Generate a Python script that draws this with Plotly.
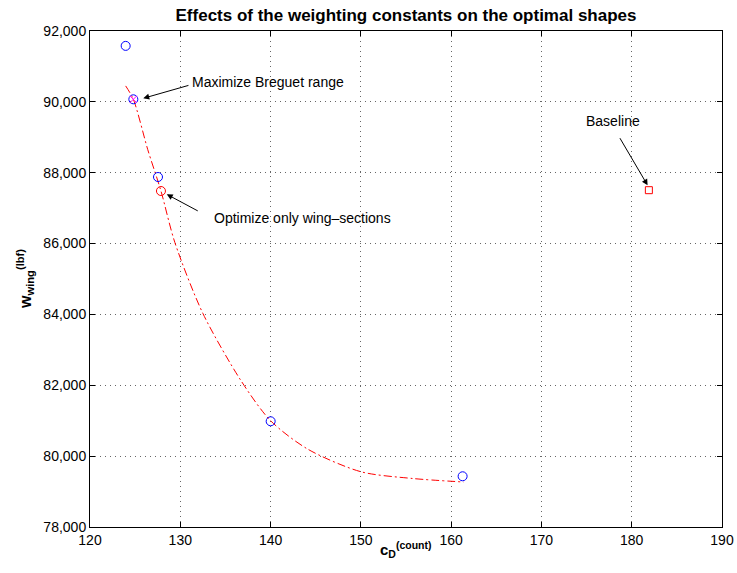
import plotly.graph_objects as go

# ---- data ----
blue_x = [123.95, 124.8, 127.53, 140.01, 161.27]
blue_y = [91580, 90072, 87879, 80984, 79432]

red_circle_x = [127.86]
red_circle_y = [87484]

magenta_x = [124.8]
magenta_y = [90072]

baseline_x = [181.9]
baseline_y = [87507]

curve_x = [123.95, 124.8, 126.4, 127.86, 129.4, 132.5, 136.7, 140.0, 144.1, 150.0, 155.7, 161.4]
curve_y = [90450, 90072, 88650, 87484, 86030, 84030, 82140, 81000, 80200, 79560, 79370, 79270]

x_range = [120, 190]
y_range = [78000, 92000]

title_text = "Effects of the weighting constants on the optimal shapes"
x_label = "c<sub>D</sub><sup>(count)</sup>"
y_label = "w<sub>wing</sub><sup>(lbf)</sup>"

FONT = "Liberation Sans, Arial, sans-serif"

# plot-area geometry in pixels (for placing axis titles)
L, R, T, B = 90, 15, 31, 46
W, H = 737, 573
PW, PH = W - L - R, H - T - B


def px_to_paper(px, py):
    return (px - L) / PW, (H - B - py) / PH


fig = go.Figure()

fig.add_trace(go.Scatter(
    x=curve_x, y=curve_y, mode="lines",
    line=dict(color="red", width=1, dash="8px,3px,2px,3px", shape="spline", smoothing=0.8),
    showlegend=False, hoverinfo="skip"))

fig.add_trace(go.Scatter(
    x=blue_x, y=blue_y, mode="markers",
    marker=dict(symbol="circle-open", size=9, color="blue", line=dict(width=1, color="blue")),
    showlegend=False))

fig.add_trace(go.Scatter(
    x=red_circle_x, y=red_circle_y, mode="markers",
    marker=dict(symbol="circle-open", size=9, color="red", line=dict(width=1, color="red")),
    showlegend=False))

fig.add_trace(go.Scatter(
    x=magenta_x, y=magenta_y, mode="markers",
    marker=dict(symbol="x-thin-open", size=7, color="magenta", line=dict(width=1, color="magenta")),
    showlegend=False))

fig.add_trace(go.Scatter(
    x=baseline_x, y=baseline_y, mode="markers",
    marker=dict(symbol="square-open", size=7, color="red", line=dict(width=1, color="red")),
    showlegend=False))

annot_font = dict(family=FONT, size=14, color="black")

xl_x, xl_y = px_to_paper(406, 549)
yl_x, yl_y = px_to_paper(25, 279)

annotations = [
    # arrows (empty text)
    dict(x=125.9, y=90100, ax=131.07, ay=90476, xref="x", yref="y", axref="x", ayref="y",
         text="", showarrow=True, arrowhead=2, arrowsize=1.2, arrowwidth=1, arrowcolor="black"),
    dict(x=128.5, y=87391, ax=132.1, ay=86900, xref="x", yref="y", axref="x", ayref="y",
         text="", showarrow=True, arrowhead=2, arrowsize=1.2, arrowwidth=1, arrowcolor="black"),
    dict(x=181.76, y=87645, ax=178.6, ay=89017, xref="x", yref="y", axref="x", ayref="y",
         text="", showarrow=True, arrowhead=2, arrowsize=1.2, arrowwidth=1, arrowcolor="black"),
    # texts
    dict(x=131.07, y=90560, xref="x", yref="y", text="Maximize Breguet range", showarrow=False,
         xanchor="left", yanchor="middle", font=annot_font),
    dict(x=133.48, y=86713, xref="x", yref="y", text="Optimize only wing–sections", showarrow=False,
         xanchor="left", yanchor="middle", font=annot_font),
    dict(x=177.9, y=89468, xref="x", yref="y", text="Baseline", showarrow=False,
         xanchor="center", yanchor="middle", font=annot_font),
    # axis titles
    dict(x=xl_x, y=xl_y, xref="paper", yref="paper", text="<b>" + x_label + "</b>",
         showarrow=False, xanchor="center", yanchor="middle",
         font=dict(family=FONT, size=15, color="black")),
    dict(x=yl_x, y=yl_y, xref="paper", yref="paper", text="<b>" + y_label + "</b>",
         showarrow=False, xanchor="center", yanchor="middle", textangle=-90,
         font=dict(family=FONT, size=16, color="black")),
]

grid = dict(showgrid=True, gridcolor="#666666", gridwidth=1, griddash="1px,4px")

fig.update_layout(
    width=W, height=H,
    margin=dict(l=L, r=R, t=T, b=B, autoexpand=False),
    paper_bgcolor="white", plot_bgcolor="white",
    font=dict(family=FONT, size=14, color="black"),
    title=dict(text="<b>" + title_text + "</b>",
               x=406 / W, xanchor="center", y=1 - 15 / H, yanchor="middle",
               font=dict(family=FONT, size=17, color="black")),
    annotations=annotations,
    xaxis=dict(range=x_range, dtick=10, tick0=120, ticks="inside", ticklen=5, tickcolor="black",
               showline=True, linecolor="black", linewidth=1, mirror="ticks", zeroline=False,
               automargin=False, tickfont=dict(family=FONT, size=14), **grid),
    yaxis=dict(range=y_range, dtick=2000, tick0=78000, ticks="inside", ticklen=5, tickcolor="black",
               showline=True, linecolor="black", linewidth=1, mirror="ticks", zeroline=False,
               automargin=False, tickformat=",d", tickfont=dict(family=FONT, size=14), **grid),
)

fig.write_html("out.html")
